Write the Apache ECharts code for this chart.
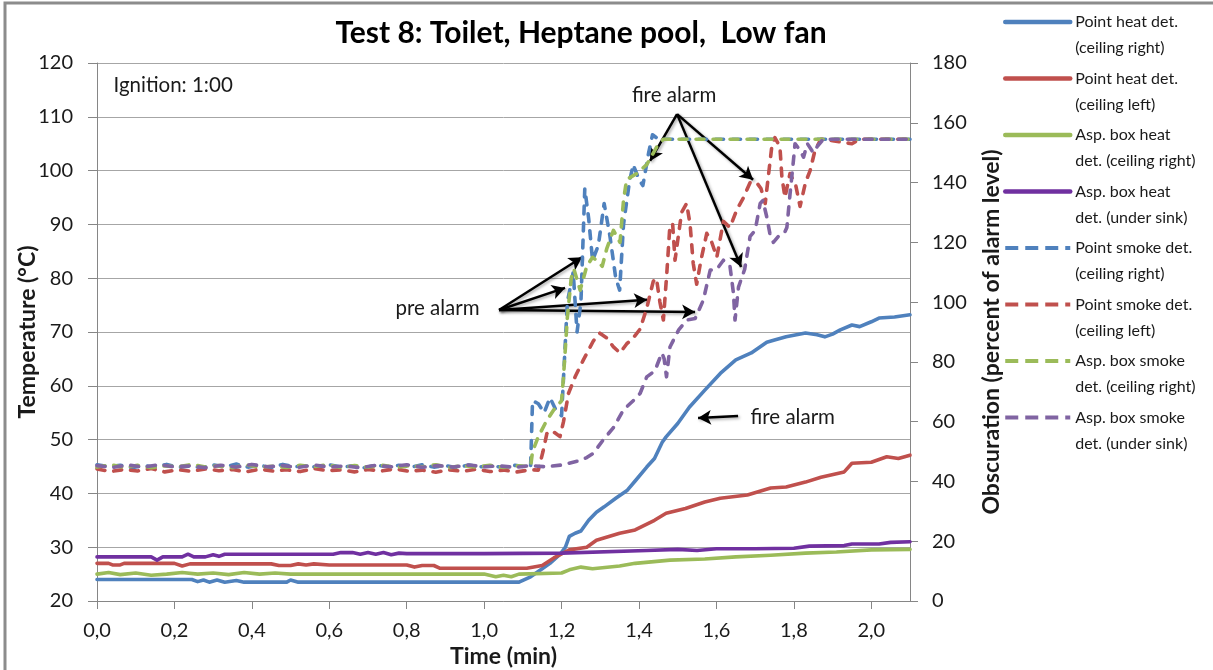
<!DOCTYPE html>
<html><head><meta charset="utf-8">
<script src="https://cdn.jsdelivr.net/npm/echarts@6/dist/echarts.min.js"></script>
<style>html,body{margin:0;padding:0;background:#fff}#c{width:1213px;height:670px}</style>
</head><body><div id="c"></div>
<script>
// ---------- DATA (time in min, value) ----------
const seriesNames = [
  'Point heat det. (ceiling right)',
  'Point heat det. (ceiling left)',
  'Asp. box heat det. (ceiling right)',
  'Asp. box heat det. (under sink)',
  'Point smoke det. (ceiling right)',
  'Point smoke det. (ceiling left)',
  'Asp. box smoke det. (ceiling right)',
  'Asp. box smoke det. (under sink)'
];
const legendLabels = [
  'Point heat det.\n(ceiling right)',
  'Point heat det.\n(ceiling left)',
  'Asp. box heat\ndet. (ceiling right)',
  'Asp. box heat\ndet. (under sink)',
  'Point smoke det.\n(ceiling right)',
  'Point smoke det.\n(ceiling left)',
  'Asp. box smoke\ndet. (ceiling right)',
  'Asp. box smoke\ndet. (under sink)'
];
const xTickLabels = ['0,0','0,2','0,4','0,6','0,8','1,0','1,2','1,4','1,6','1,8','2,0'];

// Temperature (°C), left axis
const pointHeatRight = [[0,24.0],[0.05,24.0],[0.10,24.0],[0.15,24.0],[0.20,24.0],[0.245,24.0],[0.26,23.6],[0.275,23.9],[0.29,23.5],[0.31,23.9],[0.33,23.5],[0.36,23.8],[0.38,23.5],[0.42,23.5],[0.49,23.5],[0.50,23.9],[0.52,23.5],[0.6,23.5],[0.8,23.5],[1.0,23.5],[1.09,23.5],[1.12,24.5],[1.15,26.0],[1.17,27.0],[1.195,28.6],[1.21,30.0],[1.22,32.0],[1.235,32.6],[1.25,33.0],[1.27,35.0],[1.29,36.5],[1.31,37.5],[1.34,39.1],[1.37,40.6],[1.39,42.3],[1.42,44.9],[1.44,46.5],[1.46,49.5],[1.47,50.5],[1.50,53.0],[1.53,56.0],[1.57,59.2],[1.61,62.3],[1.65,64.8],[1.69,66.1],[1.73,68.1],[1.75,68.5],[1.78,69.1],[1.83,69.8],[1.86,69.5],[1.88,69.1],[1.90,69.6],[1.92,70.4],[1.95,71.3],[1.97,71.0],[2.00,71.9],[2.02,72.6],[2.06,72.8],[2.10,73.2]];
const pointHeatLeft = [[0,27.0],[0.03,27.0],[0.04,26.7],[0.06,26.7],[0.07,27.0],[0.20,27.0],[0.22,26.5],[0.24,26.9],[0.45,26.9],[0.47,26.6],[0.50,26.6],[0.52,26.9],[0.54,26.7],[0.56,26.9],[0.60,26.7],[0.80,26.7],[0.82,26.3],[0.84,26.6],[0.87,26.6],[0.885,26.1],[1.00,26.1],[1.11,26.1],[1.15,26.6],[1.18,28.0],[1.22,29.5],[1.265,30.0],[1.29,31.3],[1.35,32.6],[1.39,33.2],[1.44,35.0],[1.47,36.3],[1.52,37.2],[1.57,38.4],[1.61,39.1],[1.68,39.7],[1.74,41.0],[1.78,41.2],[1.83,42.1],[1.87,43.0],[1.93,44.0],[1.95,45.6],[2.00,45.8],[2.04,46.8],[2.07,46.5],[2.10,47.1]];
const aspHeatRight = [[0,25.0],[0.03,25.3],[0.06,24.9],[0.10,25.2],[0.14,24.8],[0.18,25.0],[0.22,25.3],[0.26,25.0],[0.30,25.2],[0.34,24.9],[0.38,25.3],[0.42,25.0],[0.46,25.2],[0.50,25.0],[0.60,25.0],[0.80,25.0],[1.00,25.0],[1.03,24.5],[1.05,24.8],[1.07,24.5],[1.09,25.0],[1.20,25.2],[1.22,25.8],[1.25,26.3],[1.28,26.0],[1.35,26.5],[1.39,27.0],[1.48,27.6],[1.57,27.8],[1.65,28.2],[1.74,28.5],[1.83,28.9],[1.91,29.1],[2.00,29.5],[2.10,29.6]];
const aspHeatSink = [[0,28.2],[0.14,28.2],[0.155,27.6],[0.17,28.2],[0.22,28.2],[0.235,28.7],[0.25,28.2],[0.28,28.2],[0.30,28.6],[0.315,28.3],[0.33,28.7],[0.61,28.7],[0.63,29.0],[0.66,29.0],[0.68,28.7],[0.70,29.0],[0.72,28.7],[0.74,29.0],[0.76,28.6],[0.78,28.9],[0.80,28.8],[1.00,28.8],[1.20,28.9],[1.42,29.4],[1.50,29.6],[1.55,29.4],[1.60,29.7],[1.70,29.7],[1.80,29.8],[1.84,30.2],[1.93,30.3],[1.95,30.6],[2.02,30.6],[2.05,30.9],[2.10,31.0]];

// Obscuration (% of alarm level), right axis
const pointSmokeRight = [[0,45.6],[0.03,44.9],[0.06,45.4],[0.09,44.6],[0.12,45.3],[0.15,44.8],[0.18,45.7],[0.21,44.7],[0.24,45.2],[0.27,44.6],[0.30,45.5],[0.33,44.9],[0.36,45.8],[0.39,44.8],[0.42,45.4],[0.45,44.6],[0.48,45.7],[0.51,44.9],[0.54,45.3],[0.57,44.7],[0.60,45.6],[0.63,44.8],[0.66,45.2],[0.69,44.6],[0.72,45.5],[0.75,44.9],[0.78,45.4],[0.81,44.7],[0.84,45.6],[0.87,44.8],[0.90,45.3],[0.93,44.6],[0.96,45.5],[0.99,44.9],[1.02,45.2],[1.05,44.7],[1.08,45.4],[1.11,44.8],[1.12,45.0],[1.125,67],[1.14,66],[1.155,63],[1.17,68],[1.185,64],[1.20,62],[1.215,100],[1.23,110],[1.24,90],[1.25,100],[1.26,138],[1.27,128],[1.28,114],[1.295,119],[1.31,133],[1.325,122],[1.34,108],[1.35,104],[1.36,126],[1.375,140],[1.385,146],[1.40,141],[1.41,139],[1.425,150],[1.435,156],[1.45,154.5],[2.10,154.5]];
const pointSmokeLeft = [[0,44.2],[0.035,43.3],[0.07,44.0],[0.105,43.5],[0.14,44.3],[0.175,43.2],[0.21,43.9],[0.245,43.4],[0.28,44.2],[0.315,43.6],[0.35,44.0],[0.385,43.2],[0.42,44.1],[0.455,43.5],[0.49,43.9],[0.525,43.3],[0.56,44.3],[0.595,43.6],[0.63,43.9],[0.665,43.2],[0.70,44.0],[0.735,43.5],[0.77,44.2],[0.805,43.4],[0.84,43.8],[0.875,43.1],[0.91,43.9],[0.945,43.4],[0.98,44.1],[1.015,43.3],[1.05,43.8],[1.085,43.2],[1.12,43.9],[1.14,43.8],[1.152,50],[1.162,56],[1.175,57],[1.196,55],[1.205,60],[1.218,69.5],[1.235,75],[1.256,80.6],[1.282,87],[1.299,89.6],[1.317,88],[1.334,85],[1.351,83],[1.368,86],[1.385,88],[1.403,91],[1.42,98],[1.437,107],[1.445,108],[1.454,100],[1.463,94],[1.472,110],[1.48,126],[1.487,126],[1.493,114],[1.51,130],[1.523,133],[1.532,126],[1.54,113],[1.549,106],[1.56,114],[1.575,123],[1.588,120],[1.601,115],[1.618,127],[1.635,125],[1.653,131],[1.67,135],[1.687,140],[1.704,140],[1.715,138],[1.726,133],[1.734,142],[1.743,152],[1.751,155],[1.764,152],[1.769,142],[1.777,135],[1.79,143],[1.805,139],[1.816,132],[1.83,140],[1.842,144],[1.855,151],[1.87,154.5],[1.90,154],[1.95,153],[1.97,154.5],[2.10,154.5]];
const aspSmokeRight = [[0,44.8],[0.035,45.6],[0.07,44.7],[0.105,45.4],[0.14,44.6],[0.175,45.2],[0.21,44.9],[0.245,45.7],[0.28,44.8],[0.315,45.3],[0.35,44.6],[0.385,45.5],[0.42,44.8],[0.455,45.1],[0.49,44.7],[0.525,45.4],[0.56,44.9],[0.595,45.6],[0.63,44.6],[0.665,45.3],[0.70,44.8],[0.735,45.5],[0.77,44.7],[0.805,45.2],[0.84,44.9],[0.875,45.6],[0.91,44.6],[0.945,45.3],[0.98,44.8],[1.015,45.4],[1.05,44.7],[1.085,45.2],[1.12,45.0],[1.125,50],[1.14,55],[1.16,60],[1.18,64],[1.20,67],[1.205,75],[1.215,95],[1.225,108],[1.232,111],[1.248,104],[1.265,112],[1.28,115],[1.29,114],[1.305,112],[1.317,118],[1.334,124],[1.351,120],[1.36,134],[1.368,141],[1.394,143],[1.42,146],[1.446,152],[1.463,154.5],[2.10,154.5]];
const aspSmokeSink = [[0,45.3],[0.04,44.7],[0.08,45.5],[0.12,44.8],[0.16,45.6],[0.20,44.9],[0.24,45.2],[0.28,44.6],[0.32,45.4],[0.36,44.8],[0.40,45.7],[0.44,44.9],[0.48,45.3],[0.52,44.7],[0.56,45.5],[0.60,44.8],[0.64,45.2],[0.68,44.6],[0.72,45.4],[0.76,44.9],[0.80,45.6],[0.84,44.7],[0.88,45.3],[0.92,44.8],[0.96,45.5],[1.00,44.9],[1.04,45.2],[1.08,44.7],[1.12,45.3],[1.16,44.9],[1.20,45.5],[1.248,47],[1.265,48],[1.282,49.4],[1.308,54],[1.334,58],[1.36,64],[1.385,67],[1.403,69.5],[1.42,75],[1.441,77],[1.459,83],[1.465,81],[1.471,75],[1.48,85],[1.502,90.6],[1.523,94],[1.545,94.5],[1.566,100.6],[1.584,110.7],[1.601,111],[1.618,114],[1.635,112],[1.644,103],[1.648,94],[1.657,105],[1.673,111],[1.687,122],[1.70,124],[1.713,133],[1.72,134],[1.73,128.5],[1.738,123],[1.747,120],[1.76,122],[1.775,123],[1.782,125],[1.79,136],[1.799,147.5],[1.803,153],[1.815,151],[1.825,148.5],[1.835,153],[1.85,150],[1.86,152],[1.876,154.5],[2.10,154.5]];

// Annotations (data coords on time / temperature axes)
const preAlarmArrows = [
  [[1.0385,74.1],[1.2529,83.9]],
  [[1.0385,74.1],[1.2090,78.2]],
  [[1.0385,74.1],[1.4209,76.0]],
  [[1.0385,74.1],[1.5449,73.7]]
];
const fireAlarmArrows = [
  [[1.4983,110.5],[1.4286,101.8]],
  [[1.4983,110.5],[1.6947,98.3]],
  [[1.4983,110.5],[1.6637,82.1]],
  [[1.6559,54.4],[1.5526,54.0]]
];
const textNotes = [
  {text:'Ignition: 1:00', at:[0.0413,115.9], align:'left'},
  {text:'pre alarm', at:[0.8796,74.3], align:'center'},
  {text:'fire alarm', at:[1.4906,114.0], align:'center'},
  {text:'fire alarm', at:[1.6869,54.2], align:'left'}
];

// ---------- CHART ----------
const FONT = 'Lato';
const TXT = '#1a1a1a';
const colors = ['#4F81BD','#C0504D','#9BBB59','#7030A0','#4F81BD','#C0504D','#9BBB59','#8064A2'];
const datasets = [pointHeatRight, pointHeatLeft, aspHeatRight, aspHeatSink, pointSmokeRight, pointSmokeLeft, aspSmokeRight, aspSmokeSink];

const chart = echarts.init(document.getElementById('c'), null, {renderer:'canvas'});

const series = datasets.map((d, i) => {
  const dashed = i >= 4;
  return {
    name: seriesNames[i], type: 'line', data: d,
    yAxisIndex: dashed ? 1 : 0,
    symbol: 'none', showSymbol: false, silent: true, animation: false,
    lineStyle: {color: colors[i], width: 3.6, type: dashed ? [8, 9] : 'solid', cap: 'round', join: 'round'},
    itemStyle: {color: colors[i]},
    z: 2 + i
  };
});

series[0].markLine = {
  silent: true, animation: false, symbol: ['none', 'arrow'], symbolSize: [11, 13],
  label: {show: false},
  itemStyle: {color: '#000'},
  lineStyle: {color: '#000', width: 2.5, type: 'solid', shadowBlur: 3, shadowColor: 'rgba(0,0,0,0.35)', shadowOffsetX: 1.5, shadowOffsetY: 1.5},
  emphasis: {disabled: true},
  data: preAlarmArrows.concat(fireAlarmArrows).map(a => [{coord: a[0]}, {coord: a[1]}])
};
series[0].markPoint = {
  silent: true, animation: false, symbol: 'circle', symbolSize: 1,
  itemStyle: {color: 'rgba(0,0,0,0)'},
  data: textNotes.map(n => ({
    coord: n.at,
    label: {show: true, formatter: n.text, position: n.align === 'left' ? 'right' : 'inside', distance: 0,
      color: TXT, fontFamily: FONT, fontSize: 20.5}
  }))
};

const legendData = seriesNames.map((n, i) => ({
  name: n,
  itemStyle: {opacity: 0},
  lineStyle: i >= 4 ? {width: 4, type: [13, 7], cap: 'butt', opacity: 1} : {width: 4.5, type: 'solid', cap: 'round', opacity: 1}
}));

chart.setOption({
  backgroundColor: '#ffffff',
  animation: false,
  textStyle: {fontFamily: FONT},
  title: {
    text: 'Test 8: Toilet, Heptane pool,  Low fan', left: 576, top: 13, textAlign: 'center',
    textStyle: {fontFamily: FONT, fontSize: 30, fontWeight: 'bold', color: '#000'}
  },
  legend: {
    orient: 'vertical', left: 998, top: -22, itemWidth: 65, itemHeight: 14, itemGap: -21.5,
    data: legendData, selectedMode: false,
    formatter: name => '\n' + legendLabels[seriesNames.indexOf(name)],
    textStyle: {fontFamily: FONT, fontSize: 16, color: TXT, lineHeight: 26}
  },
  grid: {left: 97, right: 303, top: 63, bottom: 69, containLabel: false, outerBoundsMode: 'none'},
  xAxis: {
    type: 'value', min: 0, max: 2.1, interval: 0.2,
    name: 'Time (min)', nameLocation: 'middle', nameGap: 44, nameMoveOverlap: false,
    nameTextStyle: {fontFamily: FONT, fontSize: 23, fontWeight: 'bold', color: TXT},
    axisLine: {show: true, lineStyle: {color: '#868686', width: 1}},
    axisTick: {show: true, inside: false, length: 8, lineStyle: {color: '#868686'}},
    axisLabel: {show: true, showMaxLabel: false, margin: 20, fontFamily: FONT, fontSize: 20, color: TXT,
      formatter: v => { const k = Math.round(v / 0.2); return (Math.abs(v - k * 0.2) < 1e-6 && k < xTickLabels.length) ? xTickLabels[k] : ''; }},
    splitLine: {show: false}
  },
  yAxis: [
    {
      type: 'value', min: 20, max: 120, interval: 10, position: 'left',
      name: 'Temperature (°C)', nameLocation: 'middle', nameGap: 58, nameMoveOverlap: false,
      nameTextStyle: {fontFamily: FONT, fontSize: 23, fontWeight: 'bold', color: TXT},
      axisLine: {show: true, lineStyle: {color: '#868686', width: 1}},
      axisTick: {show: true, inside: false, length: 9, lineStyle: {color: '#868686'}},
      axisLabel: {margin: 24, fontFamily: FONT, fontSize: 20, color: TXT},
      splitLine: {show: true, lineStyle: {color: '#a6a6a6', width: 1}}
    },
    {
      type: 'value', min: 0, max: 180, interval: 20, position: 'right',
      name: 'Obscuration (percent of alarm level)', nameLocation: 'middle', nameGap: 70, nameMoveOverlap: false,
      nameTextStyle: {fontFamily: FONT, fontSize: 23, fontWeight: 'bold', color: TXT},
      axisLine: {show: true, lineStyle: {color: '#868686', width: 1}},
      axisTick: {show: true, inside: false, length: 8, lineStyle: {color: '#868686'}},
      axisLabel: {margin: 22, fontFamily: FONT, fontSize: 20, color: TXT},
      splitLine: {show: false}
    }
  ],
  graphic: [{
    type: 'rect', silent: true, z: -1,
    shape: {x: 5, y: 3, width: 1400, height: 900},
    style: {fill: 'none', stroke: '#8c8c8c', lineWidth: 3}
  }],
  series: series
});
</script>
</body></html>
